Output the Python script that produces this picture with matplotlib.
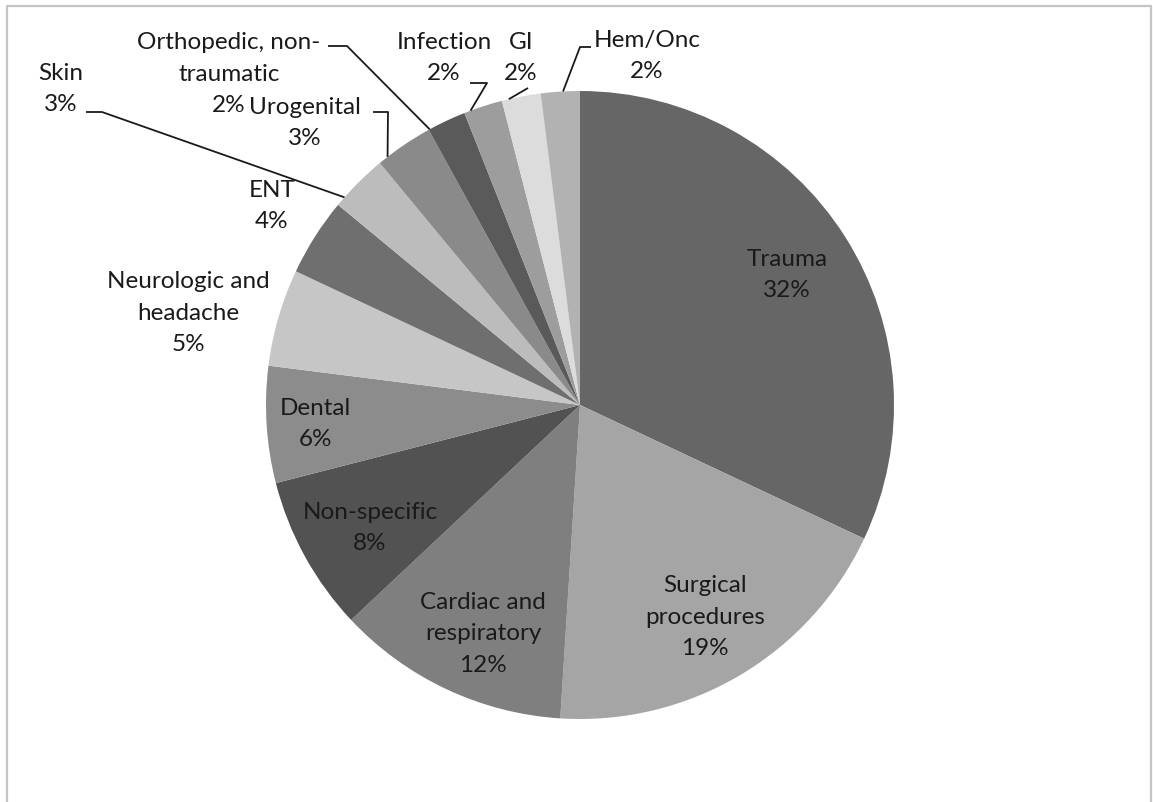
import numpy as np
import matplotlib.pyplot as plt
from matplotlib.lines import Line2D

# ---- data -------------------------------------------------------------
categories = ['Trauma', 'Surgical\nprocedures', 'Cardiac and\nrespiratory',
              'Non-specific', 'Dental', 'Neurologic and\nheadache', 'ENT',
              'Skin', 'Urogenital', 'Orthopedic, non-\ntraumatic',
              'Infection', 'GI', 'Hem/Onc']
shares = [32, 19, 12, 8, 6, 5, 4, 3, 3, 2, 2, 2, 2]
greys = ['#666666', '#a5a5a5', '#7f7f7f', '#525252', '#8c8c8c', '#c6c6c6',
         '#6f6f6f', '#bcbcbc', '#8a8a8a', '#5a5a5a', '#9d9d9d', '#dcdcdc',
         '#b2b2b2']

# ---- layout (pixels, from top-left of the 1153x802 image) ---------------
W, H = 1153, 802
CX, CY, R = 580, 405, 314
LINE = 31  # pixel distance between text lines

label_pos = {
  'Trauma': (787, 275),
  'Surgical\nprocedures': (705, 617),
  'Cardiac and\nrespiratory': (483, 634),
  'Non-specific': (370, 528),
  'Dental': (315, 424),
  'Neurologic and\nheadache': (188, 313),
  'ENT': (272, 206),
  'Skin': (61, 89),
  'Urogenital': (305, 123),
  'Orthopedic, non-\ntraumatic': (229, 74),
  'Infection': (444, 58),
  'GI': (521, 58),
  'Hem/Onc': (647, 56),
}

# labels whose percent line is drawn as its own text (tight neighbours)
split_pct = ['Orthopedic, non-\ntraumatic']

# leader: start, elbow (pixels), angle tweak on the wedge (deg)
leaders = {
  'Skin': ((86, 112), (102, 112), 3.6),
  'Urogenital': ((373, 112), (388, 112), 3.6),
  'Orthopedic, non-\ntraumatic': ((328, 46), (347, 46), 3.4),
  'Infection': ((470, 83), (487, 83), 2.4),
  'GI': ((528, 88), (528, 88), 2.3),
  'Hem/Onc': ((591, 47), (580, 47), -0.5),
}


def px2data(x, y):
  return (x - CX) / R, (CY - y) / R


#==================================
def DrawFig(filename):
  fig = plt.figure(figsize=(W / 100, H / 100), dpi=100)
  ax = fig.add_axes([(CX - R) / W, (H - CY - R) / H, 2 * R / W, 2 * R / H])

  wedges, _ = ax.pie(shares, colors=greys, startangle=90, counterclock=False,
                     radius=1, wedgeprops=dict(linewidth=0))
  ax.set_xlim(-1, 1)
  ax.set_ylim(-1, 1)
  ax.axis('off')

  style = dict(ha='center', va='center', fontsize=17.5, family='Lato',
               color='#1a1a1a', linespacing=1.6)
  for w, cat, val in zip(wedges, categories, shares):
    px, py = label_pos[cat]
    if cat in split_pct:
      n = cat.count('\n') + 1
      ax.text(*px2data(px, py - LINE / 2), cat, **style)
      ax.text(*px2data(px, py - LINE / 2 + (n + 1) * LINE / 2),
              '%d%%' % val, **style)
    else:
      ax.text(*px2data(px, py), '%s\n%d%%' % (cat, val), **style)
    if cat in leaders:
      p0, p1, tweak = leaders[cat]
      ang = np.deg2rad((w.theta1 + w.theta2) / 2 + tweak)
      xs = [px2data(*p0)[0], px2data(*p1)[0], np.cos(ang)]
      ys = [px2data(*p0)[1], px2data(*p1)[1], np.sin(ang)]
      ax.plot(xs, ys, color='#1a1a1a', lw=1.3, clip_on=False,
              solid_capstyle='butt')

  # light frame around the chart area (no bottom edge visible)
  bx0, bx1, by = 7 / W, 1151 / W, 1 - 6 / H
  fig.add_artist(Line2D([bx0, bx0, bx1, bx1], [-0.01, by, by, -0.01],
                        transform=fig.transFigure, color='#c4c4c4', lw=1.6))

  plt.savefig(filename)
  return


def main():
  DrawFig('out.png')
  return


if __name__ == '__main__':
  main()
